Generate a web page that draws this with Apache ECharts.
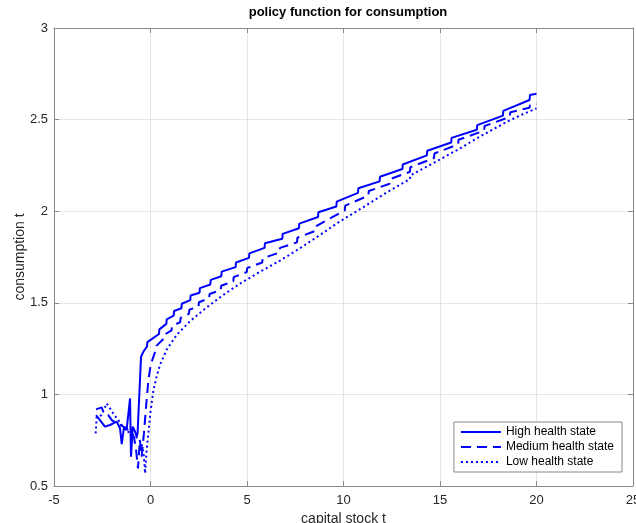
<!DOCTYPE html>
<html lang="en">
<head>
  <meta charset="UTF-8">
  <title>policy function for consumption</title>
  <style>
    html, body { margin: 0; padding: 0; background: #fff; }
    #main { width: 636px; height: 523px; }
  </style>
</head>
<body>
  <div id="main"></div>
  <script src="https://cdn.jsdelivr.net/npm/echarts@6/dist/echarts.min.js"></script>
  <script>
    var myChart = echarts.init(document.getElementById("main"));

    // [capital, consumption]
    var highState = [
      [-2.82, 0.887], [-2.62, 0.860], [-2.36, 0.824], [-2.10, 0.833], [-1.93, 0.842], [-1.75, 0.851],
      [-1.58, 0.815], [-1.49, 0.729], [-1.37, 0.824], [-1.24, 0.805], [-1.06, 0.978], [-1.01, 0.660],
      [-0.92, 0.824], [-0.80, 0.796], [-0.72, 0.769], [-0.67, 0.787], [-0.49, 1.206], [-0.37, 1.233],
      [-0.18, 1.262], [-0.16, 1.285], [0.44, 1.33], [0.46, 1.355], [0.82, 1.385], [0.84, 1.41],
      [1.20, 1.43], [1.22, 1.455], [1.60, 1.47], [1.62, 1.495], [2.06, 1.515], [2.08, 1.54],
      [2.54, 1.555], [2.56, 1.58], [3.10, 1.60], [3.12, 1.625], [3.67, 1.645], [3.69, 1.67],
      [4.41, 1.695], [4.43, 1.72], [5.10, 1.745], [5.12, 1.77], [5.91, 1.80], [5.93, 1.825],
      [6.83, 1.85], [6.85, 1.876], [7.69, 1.907], [7.71, 1.932], [8.68, 1.968], [8.70, 1.994],
      [9.63, 2.026], [9.65, 2.052], [10.75, 2.10], [10.77, 2.125], [11.87, 2.163], [11.89, 2.188],
      [13.05, 2.23], [13.07, 2.255], [14.32, 2.305], [14.34, 2.33], [15.58, 2.375], [15.60, 2.40],
      [16.91, 2.445], [16.93, 2.47], [18.26, 2.522], [18.28, 2.548], [19.64, 2.607], [19.66, 2.634],
      [20.0, 2.641]
    ];

    var mediumState = [
      [-2.82, 0.918], [-2.53, 0.929], [-2.44, 0.905], [-2.19, 0.887], [-2.01, 0.860], [-1.75, 0.842],
      [-1.58, 0.833], [-1.41, 0.824], [-1.24, 0.815], [-1.10, 0.796], [-0.98, 0.787], [-0.86, 0.769],
      [-0.75, 0.70], [-0.65, 0.596], [-0.55, 0.751], [-0.46, 0.66], [-0.34, 0.787], [-0.23, 0.933],
      [-0.11, 1.078], [0.01, 1.16], [0.18, 1.215], [0.29, 1.245], [0.31, 1.265], [0.69, 1.305],
      [0.71, 1.325], [1.09, 1.35], [1.11, 1.372], [1.54, 1.395], [1.56, 1.418], [1.99, 1.44],
      [2.01, 1.462], [2.49, 1.48], [2.51, 1.503], [3.04, 1.525], [3.06, 1.548], [3.64, 1.57],
      [3.66, 1.593], [4.29, 1.617], [4.31, 1.64], [4.99, 1.668], [5.01, 1.69], [5.79, 1.72],
      [5.81, 1.743], [6.69, 1.775], [6.71, 1.80], [7.59, 1.83], [7.61, 1.855], [8.59, 1.895],
      [8.61, 1.92], [10.07, 2.005], [10.09, 2.03], [11.29, 2.085], [11.31, 2.11], [12.39, 2.15],
      [12.41, 2.175], [13.44, 2.215], [13.46, 2.24], [14.69, 2.29], [14.71, 2.315], [15.94, 2.365],
      [15.96, 2.39], [17.29, 2.44], [17.31, 2.465], [18.62, 2.515], [18.64, 2.54], [19.64, 2.565],
      [19.66, 2.578], [20.0, 2.585]
    ];

    var lowState = [
      [-2.84, 0.787], [-2.79, 0.878], [-2.53, 0.887], [-2.27, 0.951], [-2.10, 0.924], [-1.93, 0.896],
      [-1.67, 0.860], [-1.49, 0.833], [-1.32, 0.805], [-1.15, 0.796], [-0.98, 0.787], [-0.80, 0.769],
      [-0.63, 0.76], [-0.46, 0.733], [-0.34, 0.66], [-0.28, 0.569], [-0.20, 0.696], [-0.11, 0.787],
      [0.01, 0.915], [0.15, 1.02], [0.32, 1.10], [0.49, 1.16], [0.84, 1.245], [1.36, 1.325],
      [2.05, 1.40], [2.91, 1.475], [3.80, 1.545], [4.64, 1.605], [5.60, 1.665], [6.71, 1.73],
      [7.70, 1.795], [8.78, 1.87], [9.82, 1.945], [11.0, 2.02], [12.2, 2.10], [13.44, 2.175],
      [13.46, 2.195], [14.7, 2.265], [15.9, 2.335], [17.2, 2.415], [18.5, 2.49], [19.3, 2.53],
      [20.0, 2.561]
    ];

    var seriesNames = ["High health state", "Medium health state", "Low health state"];
    var xTicks = [-5, 0, 5, 10, 15, 20, 25];
    var yTicks = [0.5, 1, 1.5, 2, 2.5, 3];

    var axisGray = "#888";
    var textColor = "#262626";
    var font = "Liberation Sans";

    function mirrorAxis(pos, min, max, interval) {
      return {
        type: "value", position: pos, min: min, max: max, interval: interval,
        axisLine: { show: true, onZero: false, lineStyle: { color: axisGray } },
        axisTick: { show: true, inside: true, length: 5, lineStyle: { color: axisGray } },
        axisLabel: { show: false },
        splitLine: { show: false }
      };
    }

    option = {
      backgroundColor: "#fff",
      animation: false,
      title: {
        text: "policy function for consumption",
        left: 343, textAlign: "center",
        top: 1,
        textStyle: { fontFamily: font, fontSize: 13, fontWeight: "bold", color: "#000" }
      },
      grid: { left: 54, right: 3, top: 28, bottom: 37, outerBoundsMode: "none", containLabel: false },
      legend: {
        data: seriesNames,
        orient: "vertical",
        right: 14,
        bottom: 51,
        itemWidth: 40,
        itemHeight: 10,
        itemGap: 3,
        padding: [4, 8, 4, 6],
        backgroundColor: "#fff",
        borderColor: "#888",
        borderWidth: 1,
        borderRadius: 0,
        itemStyle: { opacity: 0 },
        textStyle: { fontFamily: font, fontSize: 12, color: "#000" }
      },
      xAxis: [{
        type: "value", min: xTicks[0], max: xTicks[xTicks.length - 1], interval: 5,
        name: "capital stock t", nameLocation: "middle", nameGap: 26, nameMoveOverlap: false,
        nameTextStyle: { fontFamily: font, fontSize: 14, color: textColor },
        axisLine: { show: true, onZero: false, lineStyle: { color: axisGray } },
        axisTick: { show: true, inside: true, length: 5, lineStyle: { color: axisGray } },
        axisLabel: { fontFamily: font, fontSize: 13, color: textColor, margin: 8 },
        splitLine: { show: true, lineStyle: { color: "#e5e5e5" } }
      }, mirrorAxis("top", xTicks[0], xTicks[xTicks.length - 1], 5)],
      yAxis: [{
        type: "value", min: yTicks[0], max: yTicks[yTicks.length - 1], interval: 0.5,
        name: "consumption t", nameLocation: "middle", nameGap: 27, nameMoveOverlap: false,
        nameTextStyle: { fontFamily: font, fontSize: 14, color: textColor },
        axisLine: { show: true, onZero: false, lineStyle: { color: axisGray } },
        axisTick: { show: true, inside: true, length: 5, lineStyle: { color: axisGray } },
        axisLabel: { fontFamily: font, fontSize: 13, color: textColor, margin: 6 },
        splitLine: { show: true, lineStyle: { color: "#e5e5e5" } }
      }, mirrorAxis("right", yTicks[0], yTicks[yTicks.length - 1], 0.5)],
      series: [{
        name: seriesNames[0], type: "line", data: highState, symbol: "none",
        lineStyle: { color: "#0000ff", width: 2 }, itemStyle: { color: "#0000ff" }
      }, {
        name: seriesNames[1], type: "line", data: mediumState, symbol: "none",
        lineStyle: { color: "#0000ff", width: 2, type: [10, 6] }, itemStyle: { color: "#0000ff" }
      }, {
        name: seriesNames[2], type: "line", data: lowState, symbol: "none",
        lineStyle: { color: "#0000ff", width: 2, type: [2, 3] }, itemStyle: { color: "#0000ff" }
      }]
    };

    myChart.setOption(option);
  </script>
</body>
</html>
